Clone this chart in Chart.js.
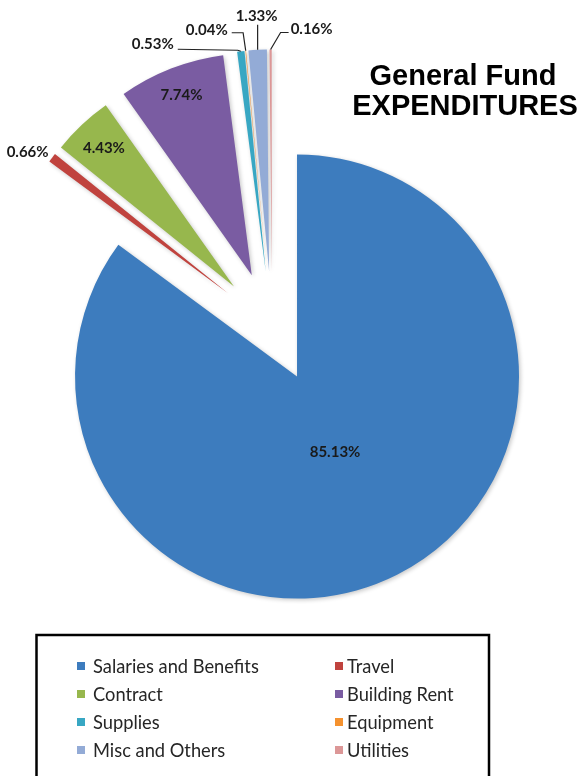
<!DOCTYPE html>
<html>
<head>
<meta charset="utf-8">
<script src="https://cdn.jsdelivr.net/npm/chart.js@4.4.0/dist/chart.umd.min.js"></script>
<style>
  html, body { margin: 0; padding: 0; background: #ffffff; }
  #wrap { width: 580px; height: 776px; position: relative; overflow: hidden; }
  canvas { display: block; }
</style>
</head>
<body>
<div id="wrap"><canvas id="chart" width="580" height="776"></canvas></div>
<script>
// ---- data ----
const categories = ['Salaries and Benefits', 'Travel', 'Contract', 'Building Rent',
                    'Supplies', 'Equipment', 'Misc and Others', 'Utilities'];
const percentages = [85.13, 0.66, 4.43, 7.74, 0.53, 0.04, 1.33, 0.16];
const titleLines = ['General Fund', 'EXPENDITURES'];

// ---- styles ----
const sliceColors = ['#3d7cbe', '#c0433e', '#97b74d', '#7a5ca2', '#38a7c3', '#f5922f', '#93abd6', '#dc9797'];
const EXPLODE = 55.5;      // px each slice is pulled out from the common centre
const PIE_RADIUS = 222;
// label placement: inside labels at a fraction of the radius along the bisector,
// outside labels offset from the slice's outer tip, with optional leader points (relative to tip)
const labelLayout = [
  { inside: 0.38 },
  { dx: -24.5, dy: -6 },
  { inside: 0.855 },
  { inside: 0.87 },
  { dx: -88, dy: -7.5, leader: [[-3, -1], [-63, -2]] },
  { dx: -39, dy: -21, leader: [[-2.6, -18], [-14, -18]] },
  { dx: -1, dy: -34, leader: [[0, -25]] },
  { dx: 41, dy: -20, leader: [[10, -17], [18, -17]] }
];

const explodePlugin = {
  id: 'explode',
  afterDatasetsUpdate(chart) {
    chart.getDatasetMeta(0).data.forEach(a => {
      const mid = (a.startAngle + a.endAngle) / 2;
      a.x += Math.cos(mid) * EXPLODE;
      a.y += Math.sin(mid) * EXPLODE;
    });
  },
  beforeDatasetsDraw(chart) {
    const ctx = chart.ctx;
    ctx.save();
    ctx.shadowColor = 'rgba(0,0,0,0.22)';
    ctx.shadowBlur = 4;
    ctx.shadowOffsetX = 1.5;
    ctx.shadowOffsetY = 1.5;
  },
  afterDatasetsDraw(chart) {
    const ctx = chart.ctx;
    ctx.restore();
    ctx.save();
    ctx.font = 'bold 15px Lato';
    ctx.textAlign = 'center';
    ctx.textBaseline = 'middle';
    chart.getDatasetMeta(0).data.forEach((a, i) => {
      const mid = (a.startAngle + a.endAngle) / 2;
      const ux = Math.cos(mid), uy = Math.sin(mid);
      const R = a.outerRadius;
      const text = percentages[i].toFixed(2) + '%';
      const lay = labelLayout[i];
      ctx.fillStyle = '#1a1a1a';
      if (lay.inside !== undefined) {
        ctx.fillText(text, a.x + ux * R * lay.inside, a.y + uy * R * lay.inside);
      } else {
        const tx = a.x + ux * R, ty = a.y + uy * R;
        if (lay.leader) {
          ctx.strokeStyle = '#222';
          ctx.lineWidth = 1.2;
          ctx.beginPath();
          ctx.moveTo(tx, ty);
          lay.leader.forEach(p => ctx.lineTo(tx + p[0], ty + p[1]));
          ctx.stroke();
        }
        ctx.fillText(text, tx + lay.dx, ty + lay.dy);
      }
    });
    ctx.restore();
  },
  afterDraw(chart) {
    const ctx = chart.ctx;
    ctx.save();
    // title
    ctx.fillStyle = '#000';
    ctx.font = 'bold 29px "Liberation Sans"';
    ctx.textAlign = 'center';
    ctx.textBaseline = 'middle';
    ctx.fillText(titleLines[0], 463, 77);
    ctx.fillText(titleLines[1], 465, 107);
    // legend box
    ctx.strokeStyle = '#000';
    ctx.lineWidth = 2.5;
    ctx.strokeRect(36.5, 635, 452.5, 200);
    const colSq = [77, 335], colTx = [93, 347];
    const rowY = [666, 694, 722, 750];
    ctx.font = '18.3px Lato';
    ctx.textAlign = 'left';
    categories.forEach((c, i) => {
      const col = i % 2, row = Math.floor(i / 2);
      ctx.fillStyle = sliceColors[i];
      ctx.fillRect(colSq[col], rowY[row] - 4, 8, 8);
      ctx.fillStyle = '#262626';
      ctx.fillText(c, colTx[col], rowY[row] + 1);
    });
    ctx.restore();
  }
};

new Chart(document.getElementById('chart'), {
  type: 'pie',
  data: {
    labels: categories,
    datasets: [{
      data: percentages,
      backgroundColor: sliceColors,
      borderWidth: 0
    }]
  },
  options: {
    responsive: false,
    animation: false,
    radius: PIE_RADIUS,
    layout: { padding: { left: 0, right: 36, top: 0, bottom: 122 } },
    plugins: { legend: { display: false }, tooltip: { enabled: false }, title: { display: false } },
    events: []
  },
  plugins: [explodePlugin]
});
</script>
</body>
</html>
